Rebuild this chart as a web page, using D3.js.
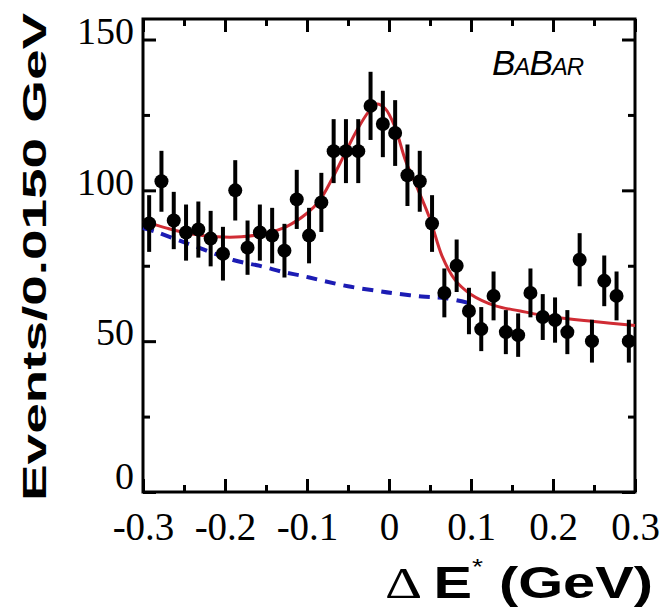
<!DOCTYPE html>
<html>
<head>
<meta charset="utf-8">
<script src="https://cdn.jsdelivr.net/npm/d3@7"></script>
<style>
  body { margin: 0; background: #fff; }
</style>
</head>
<body>
<script>
// Delta E* distribution, 40 bins of 0.015 GeV
const binCenters = [-0.2925, -0.2775, -0.2625, -0.2475, -0.2325, -0.2175, -0.2025, -0.1875,
  -0.1725, -0.1575, -0.1425, -0.1275, -0.1125, -0.0975, -0.0825, -0.0675, -0.0525, -0.0375,
  -0.0225, -0.0075, 0.0075, 0.0225, 0.0375, 0.0525, 0.0675, 0.0825, 0.0975, 0.1125, 0.1275,
  0.1425, 0.1575, 0.1725, 0.1875, 0.2025, 0.2175, 0.2325, 0.2475, 0.2625, 0.2775, 0.2925];
const counts = [89, 103, 90, 86, 87, 84, 79, 100, 81, 86, 85, 80, 97, 85, 96, 113, 113, 113,
  128, 122, 119, 105, 103, 89, 66, 75, 60, 54, 65, 53, 52, 66, 58, 57, 53, 77, 50, 70, 65, 50];
const errors = [9.4, 10.1, 9.5, 9.3, 9.3, 9.2, 8.9, 10.0, 9.0, 9.3, 9.2, 8.9, 9.8, 9.2, 9.8,
  10.6, 10.6, 10.6, 11.3, 11.0, 10.9, 10.2, 10.1, 9.4, 8.1, 8.7, 7.7, 7.3, 8.1, 7.3, 7.2, 8.1,
  7.6, 7.5, 7.3, 8.8, 7.1, 8.4, 8.1, 7.1];

// total fit (red)
const fitX = [-0.30, -0.27, -0.24, -0.21, -0.18, -0.15, -0.125, -0.10, -0.085, -0.07, -0.055,
  -0.04, -0.025, -0.015, -0.005, 0.007, 0.02, 0.035, 0.05, 0.065, 0.08, 0.10, 0.13, 0.16, 0.20,
  0.25, 0.30];
const fitY = [89.8, 87.4, 85.5, 84.6, 84.6, 85.8, 88.0, 92.4, 96.5, 103.5, 111.5, 119.5, 126.0,
  128.6, 127.2, 121.2, 110.0, 100.5, 90.5, 78.0, 70.5, 65.5, 61.7, 60.0, 58.0, 56.5, 55.2];

// background component (blue dashed)
const bkgX = [-0.30, -0.285, -0.26, -0.235, -0.19, -0.155, -0.13, -0.105, -0.08, -0.05, -0.015,
  0.005, 0.04, 0.07, 0.10];
const bkgY = [87.5, 86.3, 83.8, 81.3, 76.9, 74.8, 73.0, 71.6, 70.0, 68.2, 66.7, 65.9, 64.8,
  64.2, 62.5];

const xMajor = [-0.3, -0.2, -0.1, 0, 0.1, 0.2, 0.3];
const xMinor = [-0.25, -0.15, -0.05, 0.05, 0.15, 0.25];
const yMajor = [0, 50, 100, 150];
const yMinor = [25, 75, 125];

const width = 667, height = 609;
const plotLeft = 143, plotRight = 635, plotTop = 19, plotBottom = 492;

const svg = d3.select("body").append("svg")
  .attr("width", width)
  .attr("height", height);

const x = d3.scaleLinear().domain([-0.3, 0.3]).range([plotLeft, plotRight]);
const y = d3.scaleLinear().domain([0, 156.8]).range([plotBottom, plotTop]);

// plain hyphen for negatives, like the original
const fmtX = function(d) { return d === 0 ? "0" : d.toFixed(1); };

function styleAxis(g) {
  g.select(".domain").remove();
  g.selectAll(".tick line").attr("stroke", "#000").attr("stroke-width", 3);
  g.selectAll("text")
    .attr("fill", "#000")
    .attr("font-family", "'Liberation Serif', 'Times New Roman', serif")
    .attr("font-size", 39);
}

// ticks point inwards on all four sides
svg.append("g").attr("transform", "translate(0," + plotBottom + ")")
  .call(d3.axisBottom(x).tickValues(xMajor).tickSize(-13).tickPadding(20).tickFormat(fmtX))
  .call(styleAxis);
svg.append("g").attr("transform", "translate(0," + plotBottom + ")")
  .call(d3.axisBottom(x).tickValues(xMinor).tickSize(-7).tickFormat(""))
  .call(styleAxis);
svg.append("g").attr("transform", "translate(0," + plotTop + ")")
  .call(d3.axisTop(x).tickValues(xMajor).tickSize(-13).tickFormat(""))
  .call(styleAxis);
svg.append("g").attr("transform", "translate(0," + plotTop + ")")
  .call(d3.axisTop(x).tickValues(xMinor).tickSize(-7).tickFormat(""))
  .call(styleAxis);

svg.append("g").attr("transform", "translate(" + plotLeft + ",0)")
  .call(d3.axisLeft(y).tickValues(yMajor).tickSize(-13).tickPadding(9))
  .call(styleAxis)
  .selectAll("text")
    .attr("font-size", 38)
    .attr("dy", function(d) { return d === 0 ? "-0.1em" : "0.1em"; });
svg.append("g").attr("transform", "translate(" + plotLeft + ",0)")
  .call(d3.axisLeft(y).tickValues(yMinor).tickSize(-7).tickFormat(""))
  .call(styleAxis);
svg.append("g").attr("transform", "translate(" + plotRight + ",0)")
  .call(d3.axisRight(y).tickValues(yMajor).tickSize(-13).tickFormat(""))
  .call(styleAxis);
svg.append("g").attr("transform", "translate(" + plotRight + ",0)")
  .call(d3.axisRight(y).tickValues(yMinor).tickSize(-7).tickFormat(""))
  .call(styleAxis);

svg.append("rect")
  .attr("x", plotLeft).attr("y", plotTop)
  .attr("width", plotRight - plotLeft).attr("height", plotBottom - plotTop)
  .attr("fill", "none")
  .attr("stroke", "#000")
  .attr("stroke-width", 3);

// curves
const bkgLine = d3.line()
  .x(function(d, i) { return x(bkgX[i]); })
  .y(function(d) { return y(d); })
  .curve(d3.curveCatmullRom);
svg.append("path")
  .attr("d", bkgLine(bkgY))
  .attr("fill", "none")
  .attr("stroke", "#1c1cb4")
  .attr("stroke-width", 4)
  .attr("stroke-dasharray", "11,8");

const fitLine = d3.line()
  .x(function(d, i) { return x(fitX[i]); })
  .y(function(d) { return y(d); })
  .curve(d3.curveCatmullRom);
svg.append("path")
  .attr("d", fitLine(fitY))
  .attr("fill", "none")
  .attr("stroke", "#d02c34")
  .attr("stroke-width", 3);

// data points with error bars
const pts = svg.append("g").selectAll("g")
  .data(counts)
  .enter()
    .append("g");

pts.append("line")
  .attr("x1", function(d, i) { return x(binCenters[i]); })
  .attr("x2", function(d, i) { return x(binCenters[i]); })
  .attr("y1", function(d, i) { return y(d - errors[i]); })
  .attr("y2", function(d, i) { return y(d + errors[i]); })
  .attr("stroke", "#000")
  .attr("stroke-width", 4);

pts.append("circle")
  .attr("cx", function(d, i) { return x(binCenters[i]); })
  .attr("cy", function(d) { return y(d); })
  .attr("r", 7)
  .attr("fill", "#000");

// axis titles
svg.append("text")
  .attr("transform", "translate(46,257) rotate(-90)")
  .attr("text-anchor", "middle")
  .attr("font-family", "'Liberation Sans', Arial, sans-serif")
  .attr("font-weight", "bold")
  .attr("font-size", 34)
  .attr("textLength", 488)
  .attr("lengthAdjust", "spacingAndGlyphs")
  .text("Events/0.0150 GeV");

const xt = svg.append("text")
  .attr("x", 385)
  .attr("y", 598)
  .attr("font-size", 45)
  .attr("textLength", 268)
  .attr("lengthAdjust", "spacingAndGlyphs");
xt.append("tspan")
  .attr("font-family", "'Liberation Serif', serif")
  .text("Δ ");
xt.append("tspan")
  .attr("font-family", "'Liberation Sans', Arial, sans-serif")
  .attr("font-weight", "bold")
  .text("E");
xt.append("tspan")
  .attr("font-family", "'Liberation Sans', Arial, sans-serif")
  .attr("font-size", 22)
  .attr("dy", -24)
  .text("*");
xt.append("tspan")
  .attr("font-family", "'Liberation Sans', Arial, sans-serif")
  .attr("font-weight", "bold")
  .attr("dy", 24)
  .text(" (GeV)");

// experiment label
const logo = svg.append("text")
  .attr("x", 492)
  .attr("y", 75)
  .attr("font-family", "'Liberation Sans', Arial, sans-serif")
  .attr("font-style", "italic")
  .attr("letter-spacing", -1);
logo.append("tspan").attr("font-size", 35).text("B");
logo.append("tspan").attr("font-size", 24).text("A");
logo.append("tspan").attr("font-size", 35).text("B");
logo.append("tspan").attr("font-size", 24).text("AR");
</script>
</body>
</html>
